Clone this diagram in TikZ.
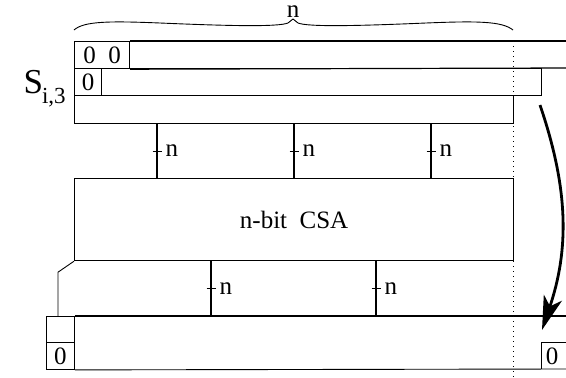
\documentclass[tikz,border=0pt]{standalone}
\usepackage{fontspec}
\setmainfont{Liberation Serif}
\usetikzlibrary{arrows.meta}
\begin{document}
\begin{tikzpicture}[x=1pt,y=-1pt,line width=1.2pt,
  txt/.style={font=\fontsize{25}{30}\selectfont, inner sep=0pt},
  reg/.style={draw, anchor=north west, inner sep=0pt, font=\fontsize{25}{30}\selectfont},
  thinreg/.style={reg, line width=0.9pt},
  wire/.style={line width=1.4pt},
  tick/.style={line width=0.7pt},
  lab/.style={txt, anchor=west},
  guide/.style={line width=1pt, dash pattern=on 1pt off 4pt},
  shiftarrow/.style={line width=2.8pt, -{Stealth[length=34pt,width=19pt,inset=9pt]}}]

\useasboundingbox (0,0) rectangle (566,378);

% brace over the n-bit field
\draw[line width=0.9pt] (74,30) .. controls (84,21) and (110,21) .. (160,23)
  .. controls (230,26) and (278,27) .. (288,23) -- (293,19) -- (298,23)
  .. controls (308,27) and (356,26) .. (426,23)
  .. controls (476,21) and (502,21) .. (513,30);
\node[txt, anchor=base] (bw) at (293,17) {n};

% register label
\node[anchor=base west, inner sep=0pt] (sreg) at (23,93)
  {\fontsize{35}{40}\selectfont S\kern-1pt\raisebox{-10pt}{\fontsize{23}{26}\selectfont i,3}};

% three shifted input words
\node[reg, minimum width=55pt, minimum height=27pt] (r1z) at (74,41) {0\hspace{0.5em}0};
\draw (r1z.north east) -- (566,41);
\draw (r1z.south east) -- (566,68);
\node[reg, minimum width=27pt, minimum height=27pt] (r2z) at (74,68) {0};
\node[reg, minimum width=440pt, minimum height=27pt] (r2) at (101,68) {};
\node[reg, minimum width=439pt, minimum height=28pt] (r3) at (74,95) {};

% carry-save adder
\node[reg, minimum width=439pt, minimum height=82pt] (csa) at (74,178) {n-bit\hspace{0.5em}CSA};

% result register
\node[thinreg, minimum width=28pt, minimum height=26pt] (cu) at (46,316) {};
\node[thinreg, minimum width=28pt, minimum height=27pt] (cl) at (46,342) {0};
\draw (cu.north east) -- (566,316);
\draw[line width=0.9pt] (cl.south east) -- (566,369);
\node[txt] (rz) at (552,356) {0};
\draw[line width=0.9pt] (566,342) -| (541,369);

% bus positions
\coordinate (xa) at (157,0);
\coordinate (xb) at (294,0);
\coordinate (xc) at (431,0);
\coordinate (xd) at (211,0);
\coordinate (xe) at (376,0);
\coordinate (xk) at (58,0);

% buses into the adder
\foreach \c in {xa,xb,xc} {
  \draw[wire] (r3.south -| \c) -- coordinate (m\c) (csa.north -| \c);
  \draw[tick] ([xshift=-4.5pt]m\c) -- ([xshift=4.5pt]m\c);
  \node[lab] (n\c) at ([xshift=8pt]m\c) {n};
}
% buses out of the adder
\foreach \c in {xd,xe} {
  \draw[wire] (csa.south -| \c) -- coordinate (m\c) (cu.north -| \c);
  \draw[tick] ([xshift=-4.5pt]m\c) -- ([xshift=4.5pt]m\c);
  \node[lab] (n\c) at ([xshift=8pt]m\c) {n};
}
% carry out to the top bit
\draw[line width=0.9pt] (csa.south west) -- ([xshift=-16pt,yshift=-11pt]csa.south west) -- (cu.north -| xk);

% word boundary
\draw[guide] (513,41) -- (513,378);

% shift of the result
\coordinate (a0) at (540,105);
\coordinate (a1) at (542,330);
\draw[shiftarrow] (a0) .. controls (569,190) and (569,250) .. (a1);
\end{tikzpicture}
\end{document}
